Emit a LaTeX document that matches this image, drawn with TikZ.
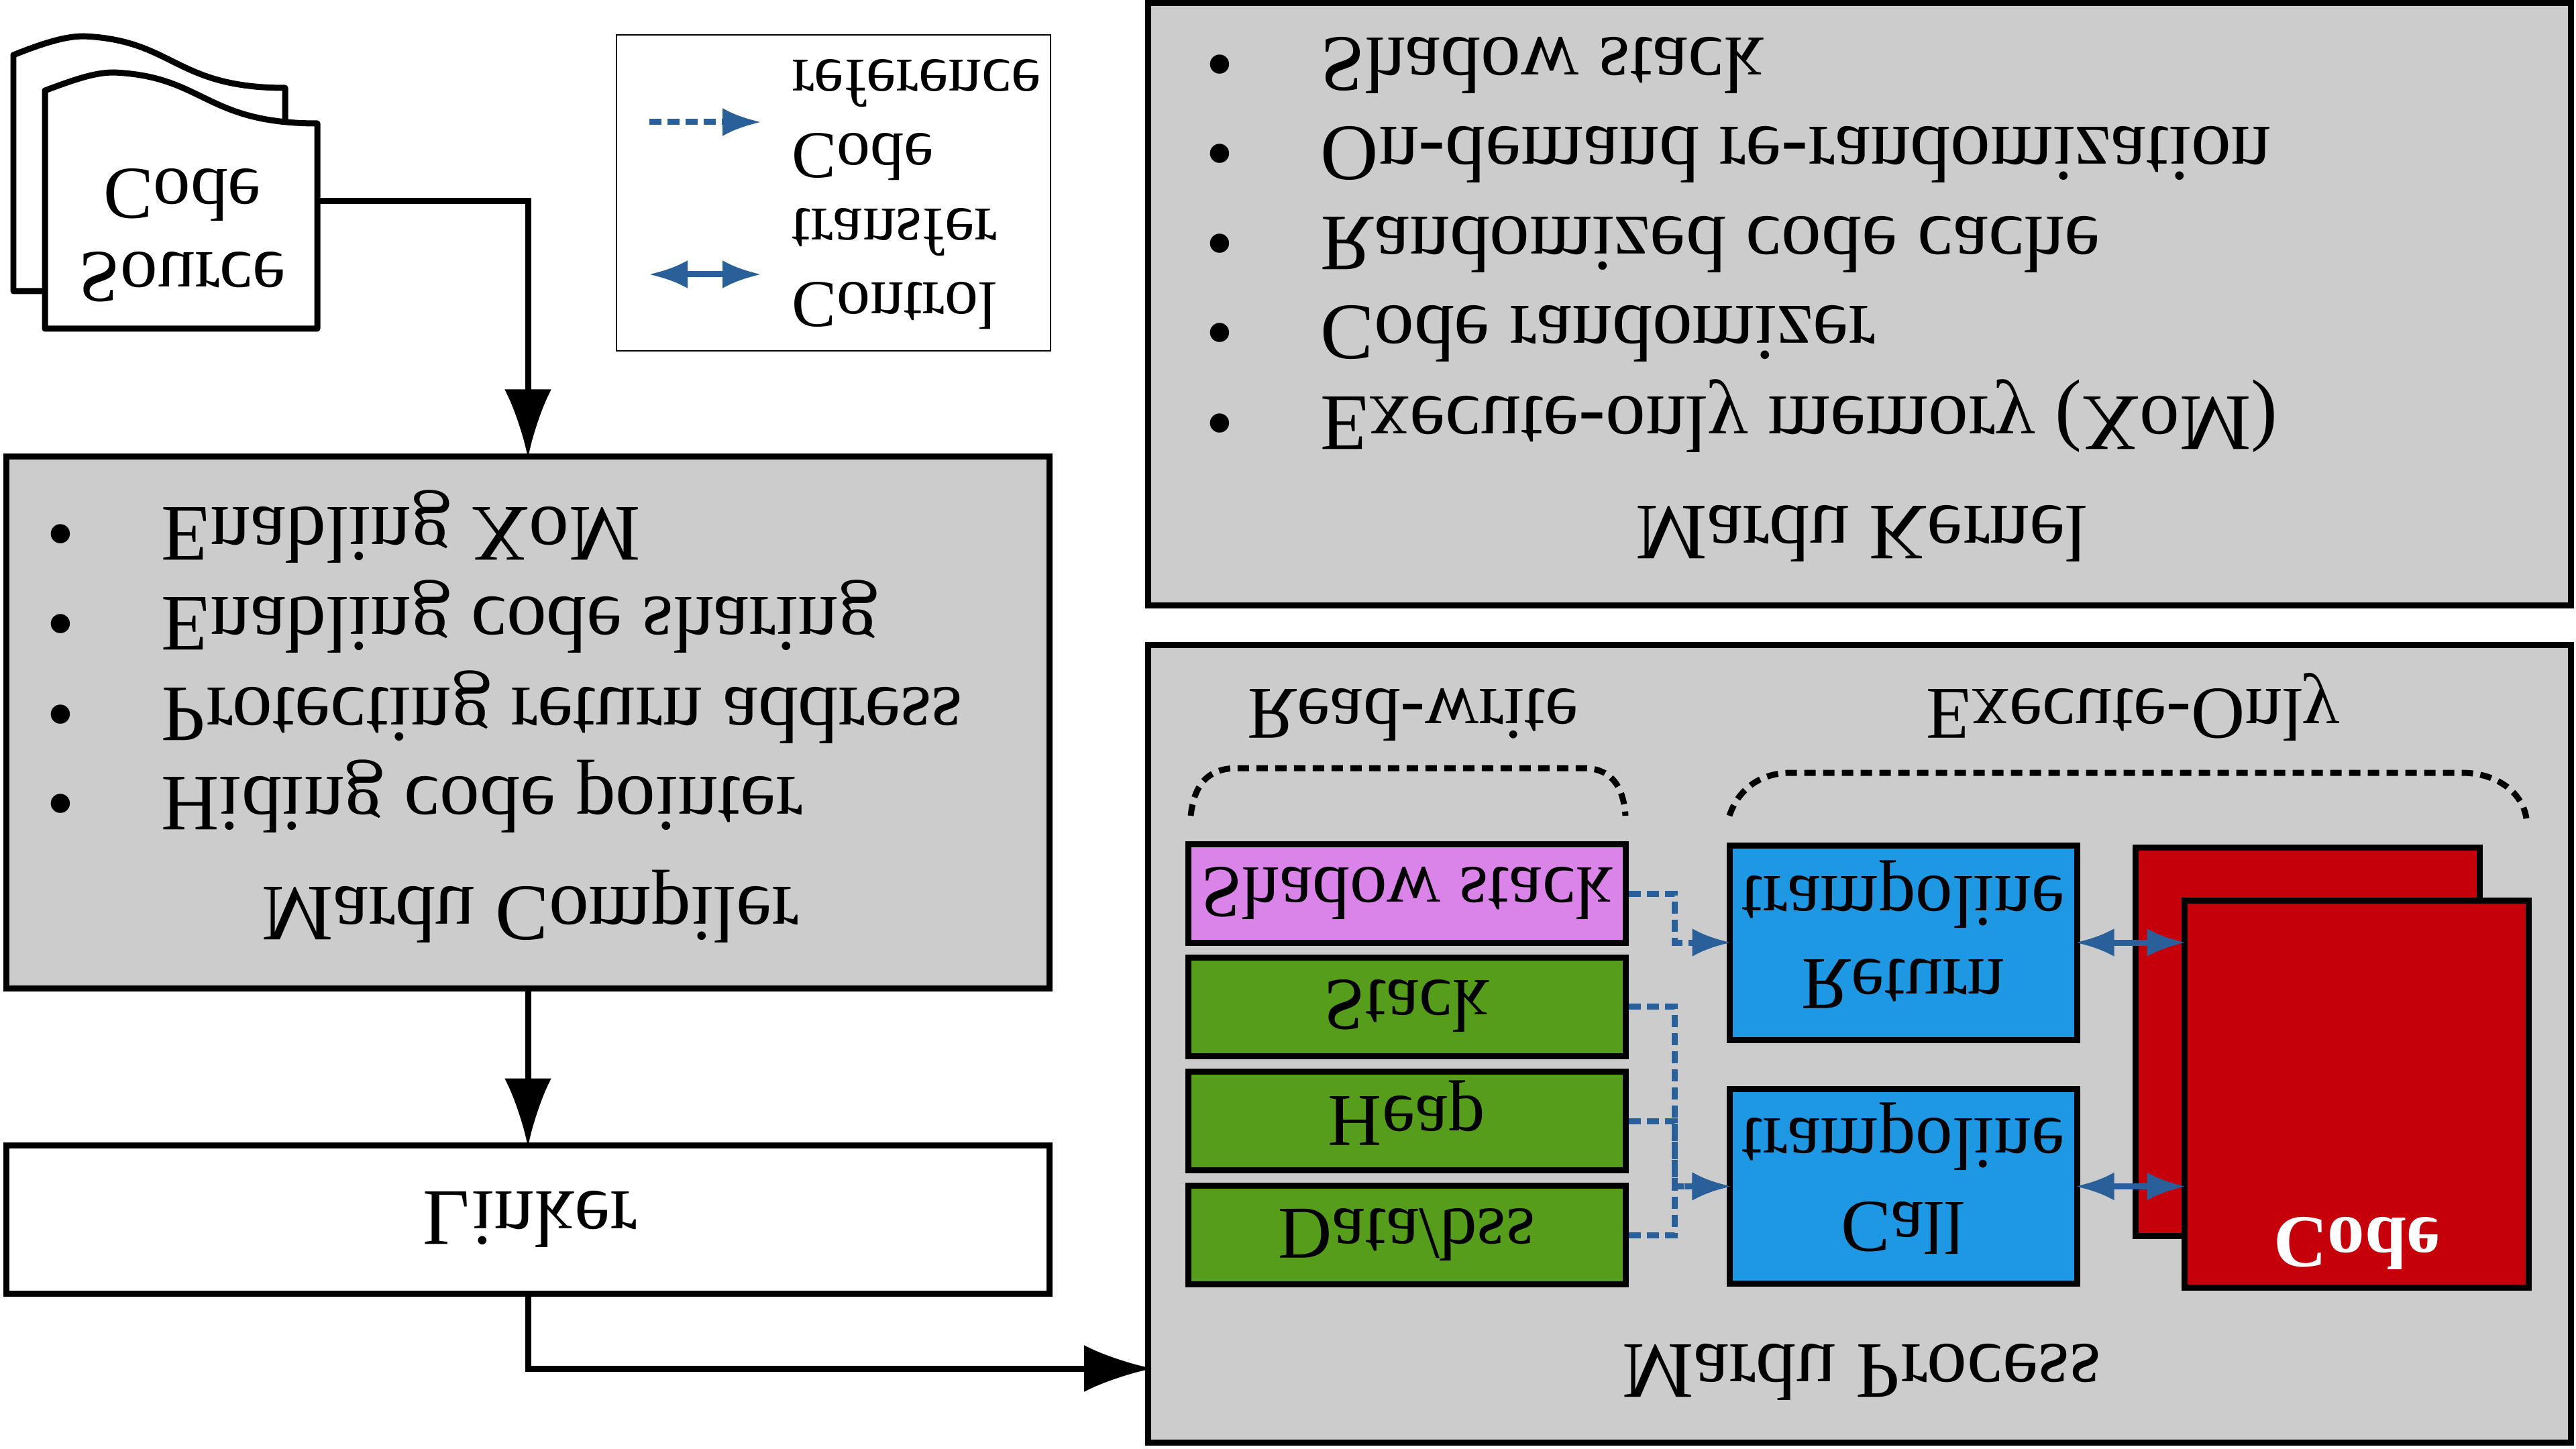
\documentclass[tikz,border=0pt]{standalone}
\usepackage{fontspec}
\setmainfont{Liberation Serif}
\usetikzlibrary{arrows.meta}
\definecolor{grayfill}{HTML}{CCCCCC}
\definecolor{shadowfill}{HTML}{DA83E8}
\definecolor{datafill}{HTML}{579D1C}
\definecolor{trampfill}{HTML}{1E98E2}
\definecolor{codefill}{HTML}{C5000B}
\definecolor{linkblue}{HTML}{2A6099}
\tikzset{
  bigtext/.style={font=\fontsize{34}{39}\selectfont},
  midtext/.style={font=\fontsize{31.6}{35.3}\selectfont},
  keytext/.style={font=\fontsize{28.4}{31.3}\selectfont},
  blockbox/.style={draw=black,line width=0.09cm,inner sep=0pt,text depth=0pt,align=center},
  flow/.style={line width=0.09cm,shorten >=-0.07cm,-{Latex[length=1.02cm,width=0.7cm]}},
  refarrow/.style={draw=linkblue,line width=0.09cm,shorten >=-0.07cm,dash pattern=on 0.18cm off 0.09cm,-{Latex[length=0.58cm,width=0.42cm]}},
  ctrlarrow/.style={draw=linkblue,line width=0.09cm,shorten >=-0.07cm,shorten <=-0.07cm,{Latex[length=0.58cm,width=0.42cm]}-{Latex[length=0.58cm,width=0.42cm]}},
  regionbrace/.style={line width=0.09cm,dash pattern=on 0.17cm off 0.11cm},
  paper/.style={draw=black,fill=white,line width=0.09cm,line join=round},
}
\begin{document}
\begin{tikzpicture}[yscale=-1,transform shape]
  \useasboundingbox (0,0) rectangle (38.4,21.6);

  % source code pages
  \draw[paper] (0.2,4.34) -- (0.2,0.82) .. controls (0.7,0.62) and (1.0,0.54) .. (1.25,0.54)
     .. controls (2.6,0.6) and (2.6,1.31) .. (4.25,1.31) -- (4.25,2.2) -- (0.67,4.34) -- cycle;
  \draw[paper] (0.67,4.90) -- (0.67,1.35) .. controls (1.2,1.15) and (1.45,1.08) .. (1.7,1.08)
     .. controls (3.05,1.14) and (3.05,1.84) .. (4.73,1.84) -- (4.73,4.90) -- cycle;
  \node[midtext,align=center,text depth=0pt] (source) at (2.72,3.51) {Source\\Code};
  \coordinate (sourceout) at (4.73,3.00);

  % legend
  \node[draw=black,line width=0.015cm,minimum width=6.47cm,minimum height=4.71cm] (legend) at (12.425,2.875) {};
  \coordinate (refstart) at (9.68,1.82);
  \coordinate (refend) at (11.28,1.82);
  \coordinate (ctrlstart) at (9.74,4.09);
  \coordinate (ctrlend) at (11.28,4.09);
  \draw[refarrow] (refstart) -- (refend);
  \draw[ctrlarrow] (ctrlstart) -- (ctrlend);
  \node[keytext,anchor=west,align=left,inner sep=0pt,text depth=0pt] (refkey) at (11.80,1.79) {Code\\reference};
  \node[keytext,anchor=west,align=left,inner sep=0pt,text depth=0pt] (ctrlkey) at (11.80,4.01) {Control\\transfer};

  % compiler and linker
  \node[blockbox,fill=grayfill,minimum width=15.54cm,minimum height=7.93cm] (compiler) at (7.87,10.765) {};
  \node[blockbox,fill=white,bigtext,minimum width=15.54cm,minimum height=2.21cm] (linker) at (7.87,18.175) {\hspace*{0.06cm}Linker};
  \foreach \rowy/\rowtext in {7.56/Enabling XoM,8.90/Enabling code sharing,10.25/Protecting return address,11.58/Hiding code pointer} {
    \node[bigtext,anchor=base west,inner sep=0pt] at (0.69,\rowy) {\textbullet};
    \node[bigtext,anchor=base west,inner sep=0pt] at (2.40,\rowy) {\rowtext};
  }
  \node[bigtext,anchor=base,inner sep=0pt] (compilername) at (7.90,13.22) {Mardu Compiler};

  % kernel
  \node[blockbox,fill=grayfill,minimum width=21.21cm,minimum height=8.97cm] (kernel) at (27.715,4.535) {};
  \foreach \rowy/\rowtext in {0.57/Shadow stack,1.90/On-demand re-randomization,3.24/Randomized code cache,4.57/Code randomizer,5.91/Execute-only memory (XoM)} {
    \node[bigtext,anchor=base west,inner sep=0pt] at (17.97,\rowy) {\textbullet};
    \node[bigtext,anchor=base west,inner sep=0pt] at (19.68,\rowy) {\rowtext};
  }
  \node[bigtext,anchor=base,inner sep=0pt] (kernelname) at (27.75,7.54) {Mardu Kernel};

  % process
  \node[blockbox,fill=grayfill,minimum width=21.21cm,minimum height=11.89cm] (process) at (27.715,15.555) {};
  \node[bigtext,anchor=base,inner sep=0pt] (processname) at (27.75,20.04) {Mardu Process};
  \node[midtext,anchor=base,inner sep=0pt] (rwname) at (21.06,10.27) {Read-write};
  \node[midtext,anchor=base,inner sep=0pt] (xoname) at (31.80,10.27) {Execute-Only};
  \draw[regionbrace] (17.75,12.16) .. controls (17.8,11.7) and (18.0,11.45) .. (18.45,11.45)
     -- (23.6,11.45) .. controls (24.0,11.45) and (24.2,11.7) .. (24.23,12.16);
  \draw[regionbrace] (25.78,12.16) .. controls (25.9,11.8) and (26.2,11.52) .. (26.7,11.52)
     -- (36.7,11.52) .. controls (37.2,11.52) and (37.6,11.8) .. (37.66,12.2);

  \node[blockbox,midtext,fill=shadowfill,minimum width=6.52cm,minimum height=1.47cm] (shadow) at (20.97,13.32) {Shadow stack};
  \node[blockbox,midtext,fill=datafill,minimum width=6.52cm,minimum height=1.47cm] (stack) at (20.97,15.005) {Stack};
  \node[blockbox,midtext,fill=datafill,minimum width=6.52cm,minimum height=1.47cm] (heap) at (20.97,16.71) {Heap};
  \node[blockbox,midtext,fill=datafill,minimum width=6.52cm,minimum height=1.47cm] (databss) at (20.97,18.41) {Data/bss};

  \node[blockbox,midtext,fill=trampfill,minimum width=5.18cm,minimum height=2.90cm] (rettramp) at (28.37,14.05) {Return\\trampoline};
  \node[blockbox,midtext,fill=trampfill,minimum width=5.18cm,minimum height=2.90cm] (calltramp) at (28.37,17.685) {Call\\trampoline};

  \node[blockbox,fill=codefill,minimum width=5.13cm,minimum height=5.79cm] (codeback) at (34.40,15.525) {};
  \node[blockbox,fill=codefill,minimum width=5.13cm,minimum height=5.77cm] (codefront) at (35.125,16.305) {};
  \node[midtext,anchor=base,inner sep=0pt,text=white] (codename) at (35.13,18.15) {\bfseries Code};

  \draw[refarrow] (shadow.east) -- ++(0.69,0) |- (rettramp.west);
  \draw[refarrow] (stack.east) -- ++(0.69,0) |- (calltramp.west);
  \draw[refarrow] (heap.east) -- ++(0.69,0) |- (calltramp.west);
  \draw[refarrow] (databss.east) -- ++(0.69,0) |- (calltramp.west);
  \draw[ctrlarrow] (rettramp.east) -- (rettramp.east -| codefront.west);
  \draw[ctrlarrow] (calltramp.east) -- (calltramp.east -| codefront.west);

  % build flow
  \coordinate (processin) at (17.11,20.40);
  \draw[flow] (sourceout) -| (compiler.south);
  \draw[flow] (compiler.north) -- (linker.south);
  \draw[flow] (linker.north) |- (processin);
\end{tikzpicture}
\end{document}
